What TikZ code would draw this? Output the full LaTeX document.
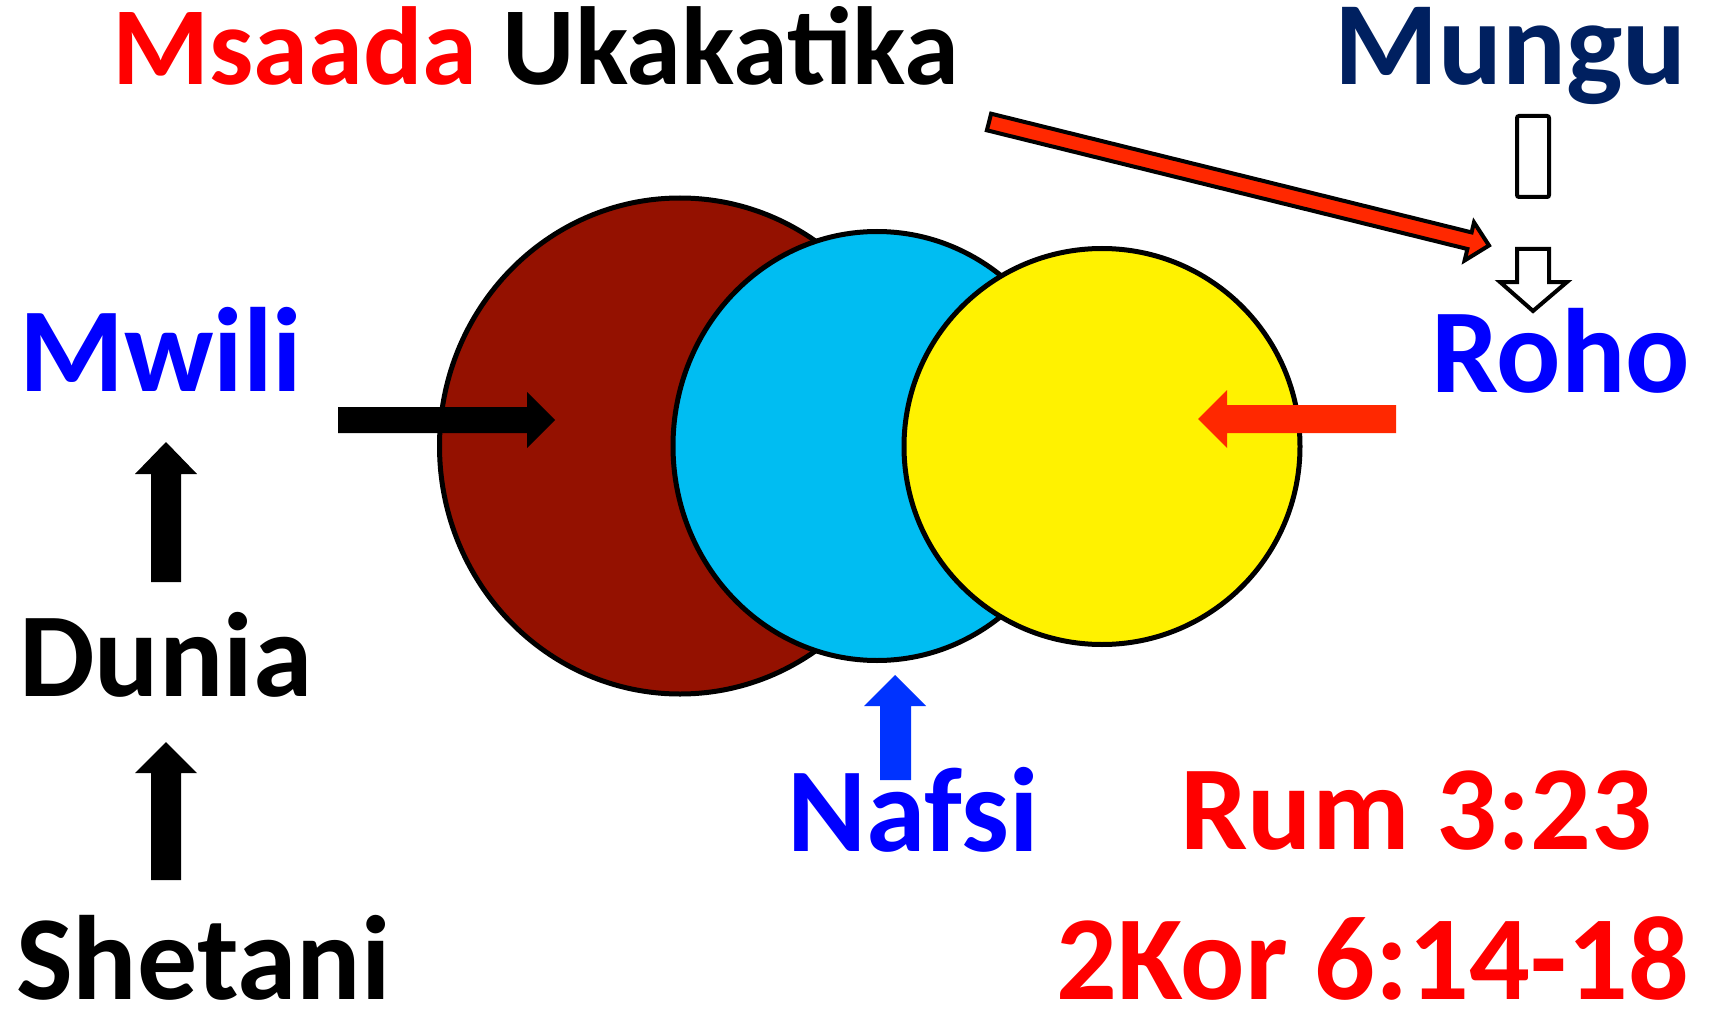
\documentclass[tikz,border=0pt]{standalone}
\usepackage{fontspec}
\setmainfont{Carlito}
\definecolor{navy}{RGB}{0,32,96}
\definecolor{darkred}{RGB}{148,17,0}
\definecolor{lightblue}{RGB}{0,189,242}
\definecolor{arrowred}{RGB}{255,40,0}
\definecolor{arrowblue}{RGB}{0,51,255}
\begin{document}
\begin{tikzpicture}[x=1pt,y=-1pt,
  lbl/.style={inner sep=0pt, anchor=base west, text depth=0pt, text height=80pt, font=\fontsize{120}{120}\selectfont\bfseries},
  ring/.style={draw=black, line width=5pt},
  hollow/.style={draw=black, fill=white, line width=4pt, line join=miter}]
\useasboundingbox (0,0) rectangle (1711,1011);

% circles
\fill[white] (0,0) rectangle (1711,1011);
\draw[ring, fill=darkred] (680,446) ellipse [x radius=240.5, y radius=248];
\draw[ring, fill=lightblue] (877,446) ellipse [x radius=204, y radius=214.5];
\draw[ring, fill=yellow] (1102,446.5) circle [radius=198];

% texts
\node[lbl, text height=78pt, font=\fontsize{111}{111}\selectfont\bfseries] (title) at (112,85) {\textcolor{red}{Msaada} Ukakatika};
\node[lbl, text height=80pt, text=navy, font=\fontsize{119}{119}\selectfont\bfseries] (mungu) at (1334,85) {Mungu};
\node[lbl, text=blue] (mwili) at (19,391) {Mwili};
\node[lbl, text=blue] (roho) at (1431,392) {Roho};
\node[lbl, text=black] (dunia) at (19,696) {Dunia};
\node[lbl, text=black] (shetani) at (16,999) {Shetani};
\node[lbl, text=blue] (nafsi) at (787,851) {Nafsi};
\node[lbl, text=red] (rum) at (1180,849) {Rum 3:23};
\node[lbl, text=red] (kor) at (1056,999) {2Kor 6:14-18};

% black right arrow into body
\fill[black] (338,407) -- (527,407) -- (527,392) -- (555,420) -- (527,448) -- (527,433) -- (338,433) -- cycle;
% red left arrow into spirit
\fill[arrowred] (1396,405) -- (1227,405) -- (1227,390) -- (1198,419) -- (1227,448) -- (1227,433) -- (1396,433) -- cycle;
% blue up arrow from Nafsi
\fill[arrowblue] (880,780) -- (880,706) -- (864,706) -- (895,675) -- (926,706) -- (911,706) -- (911,780) -- cycle;
% black up arrows on the left
\fill[black] (151,582) -- (151,474) -- (135,474) -- (166,442) -- (197,474) -- (181,474) -- (181,582) -- cycle;
\fill[black] (151,880) -- (151,773) -- (135,773) -- (166,742) -- (197,773) -- (181,773) -- (181,880) -- cycle;

% long red arrow
\draw[draw=black, fill=arrowred, line width=4pt, line join=miter]
  (991.1,113.7) -- (1471.6,232.4) -- (1474.0,222.4) -- (1489,245.5) -- (1464.6,260.5) -- (1467.4,249.0) -- (986.9,130.3) -- cycle;

% hollow box and hollow down arrow
\draw[hollow, rounded corners=2pt] (1517,116) rectangle (1549,197);
\draw[hollow] (1517,249) -- (1549,249) -- (1549,282) -- (1567,282) -- (1533,311) -- (1500,282) -- (1517,282) -- cycle;
\end{tikzpicture}
\end{document}
